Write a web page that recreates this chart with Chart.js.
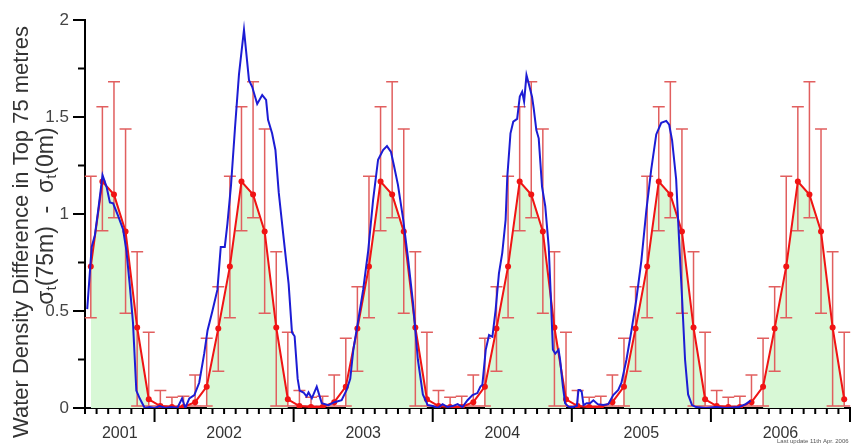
<!DOCTYPE html>
<html>
<head>
<meta charset="utf-8">
<script src="https://cdn.jsdelivr.net/npm/chart.js@4.4.0/dist/chart.umd.min.js"></script>
<style>
  html, body { margin: 0; padding: 0; background: #fff; }
  #wrap { width: 854px; height: 445px; }
</style>
</head>
<body>
<div id="wrap"><canvas id="chart" width="854" height="445"></canvas></div>
<script>
// Monthly climatology, Jan..Dec (repeated for each year on the plot)
const climMean  = [0.01, 0.005, 0.005, 0.03, 0.11, 0.41, 0.73, 1.167, 1.10, 0.91, 0.415, 0.045];
const climUpper = [0.09, 0.055, 0.06, 0.17, 0.36, 0.625, 1.195, 1.553, 1.682, 1.438, 0.806, 0.39];
const climLower = [0.01, 0.01, 0.01, 0.01, 0.01, 0.19, 0.465, 0.914, 0.981, 0.488, 0.01, 0.01];
// months that get the green shading under the climatology
const shadedMonths = [false, false, false, false, true, true, true, true, true, true, true, true];

const years = [2001, 2002, 2003, 2004, 2005, 2006];
const startMonth = 6; // series begins July 2001

// Observed values (decimal year, density difference)
const obsTime = [
  2001.516, 2001.548, 2001.571, 2001.595, 2001.626, 2001.655, 2001.679, 2001.702, 2001.738, 2001.774,
  2001.798, 2001.821, 2001.845, 2001.869, 2001.893, 2001.929, 2001.964, 2002.000, 2002.036, 2002.079,
  2002.121, 2002.164, 2002.198, 2002.221, 2002.250, 2002.286, 2002.321, 2002.357, 2002.381, 2002.416,
  2002.452, 2002.476, 2002.505, 2002.524, 2002.550, 2002.579, 2002.607, 2002.643, 2002.679, 2002.702,
  2002.738, 2002.774, 2002.802, 2002.816, 2002.845, 2002.869, 2002.893, 2002.929, 2002.964, 2002.988,
  2003.007, 2003.029, 2003.043, 2003.071, 2003.093, 2003.107, 2003.131, 2003.166, 2003.202, 2003.250,
  2003.293, 2003.345, 2003.381, 2003.407, 2003.429, 2003.464, 2003.500, 2003.536, 2003.571, 2003.607,
  2003.643, 2003.671, 2003.700, 2003.721, 2003.750, 2003.786, 2003.821, 2003.857, 2003.893, 2003.929,
  2003.964, 2004.000, 2004.036, 2004.071, 2004.107, 2004.143, 2004.179, 2004.214, 2004.250, 2004.286,
  2004.321, 2004.343, 2004.357, 2004.381, 2004.405, 2004.429, 2004.452, 2004.476, 2004.500, 2004.524,
  2004.536, 2004.559, 2004.579, 2004.607, 2004.626, 2004.643, 2004.657, 2004.674, 2004.691, 2004.714,
  2004.726, 2004.745, 2004.762, 2004.786, 2004.809, 2004.834, 2004.850, 2004.864, 2004.881, 2004.905,
  2004.916, 2004.936, 2004.952, 2004.976, 2005.007, 2005.036, 2005.048, 2005.059, 2005.071, 2005.084,
  2005.107, 2005.131, 2005.155, 2005.186, 2005.226, 2005.262, 2005.298, 2005.334, 2005.357, 2005.393,
  2005.429, 2005.464, 2005.500, 2005.536, 2005.571, 2005.607, 2005.643, 2005.679, 2005.700, 2005.721,
  2005.750, 2005.771, 2005.793, 2005.814, 2005.836, 2005.864, 2005.893, 2005.964, 2006.036, 2006.107,
  2006.202, 2006.250, 2006.286
];
const obsValue = [
  0.51, 0.83, 0.89, 1.02, 1.20, 1.14, 1.06, 1.055, 0.99, 0.92,
  0.81, 0.64, 0.44, 0.09, 0.05, 0.0, 0.005, 0.0, 0.01, 0.0,
  0.005, 0.0, 0.05, 0.0, 0.05, 0.067, 0.13, 0.28, 0.40, 0.50,
  0.61, 0.83, 0.83, 0.95, 1.15, 1.45, 1.72, 1.95, 1.69, 1.656,
  1.567, 1.613, 1.588, 1.485, 1.416, 1.33, 1.11, 0.87, 0.64, 0.39,
  0.37, 0.15, 0.09, 0.08, 0.06, 0.08, 0.05, 0.11, 0.025, 0.015,
  0.03, 0.04, 0.093, 0.15, 0.30, 0.45, 0.61, 0.81, 1.07, 1.28,
  1.33, 1.35, 1.32, 1.25, 1.15, 0.98, 0.78, 0.55, 0.25, 0.07,
  0.015, 0.01, 0.0, 0.02, 0.005, 0.01, 0.02, 0.005, 0.04, 0.067,
  0.077, 0.11, 0.12, 0.30, 0.376, 0.367, 0.505, 0.694, 0.80, 0.97,
  1.19, 1.416, 1.476, 1.49, 1.605, 1.63, 1.58, 1.716, 1.67, 1.605,
  1.545, 1.433, 1.39, 1.14, 1.04, 0.83, 0.557, 0.30, 0.28, 0.30,
  0.247, 0.11, 0.024, 0.007, 0.005, 0.01, 0.093, 0.093, 0.084, 0.015,
  0.025, 0.025, 0.04, 0.02, 0.015, 0.02, 0.067, 0.093, 0.13, 0.25,
  0.40, 0.56, 0.76, 1.02, 1.23, 1.41, 1.47, 1.48, 1.46, 1.38,
  1.18, 0.87, 0.56, 0.25, 0.07, 0.015, 0.005, 0.0, 0.005, 0.0,
  0.005, 0.02, 0.038
];

const yTicks = [0, 0.5, 1, 1.5, 2];
const xMin = 2001.5, xMax = 2007;

const axisTitle = 'Water Density Difference in Top 75 metres';
const updateNote = 'Last update 11th Apr. 2006';

Chart.defaults.font.family = "'Liberation Sans', Arial, sans-serif";

// climatology points, one per month
const climPoints = [];
years.forEach(yr => {
  for (let m = 0; m < 12; m++) {
    if (yr === years[0] && m < startMonth) continue;
    climPoints.push({ x: yr + (m + 0.5) / 12, y: climMean[m], hi: climUpper[m], lo: climLower[m], m: m });
  }
});

// year labels sit in the middle of the visible part of each year
const yearLabelPos = years.map(yr => (Math.max(yr, xMin) + Math.min(yr + 1, xMax)) / 2);

const errorBars = {
  id: 'errorBars',
  beforeDatasetDraw(chart, args) {
    if (args.index !== 1) return;
    const ctx = chart.ctx, xs = chart.scales.x, ys = chart.scales.y;
    ctx.save();
    ctx.strokeStyle = 'rgb(225,95,95)';
    ctx.lineWidth = 1.5;
    climPoints.forEach(p => {
      const px = xs.getPixelForValue(p.x);
      const top = ys.getPixelForValue(p.hi), bot = ys.getPixelForValue(p.lo);
      ctx.beginPath();
      ctx.moveTo(px, top); ctx.lineTo(px, bot);
      ctx.moveTo(px - 6, top); ctx.lineTo(px + 6, top);
      ctx.moveTo(px - 6, bot); ctx.lineTo(px + 6, bot);
      ctx.stroke();
    });
    ctx.restore();
  }
};

const axisDecor = {
  id: 'axisDecor',
  afterDraw(chart) {
    const ctx = chart.ctx, xs = chart.scales.x, ys = chart.scales.y, area = chart.chartArea;
    ctx.save();
    ctx.strokeStyle = '#000';
    ctx.lineWidth = 2;
    // month ticks, longer at year boundaries
    years.concat([2007]).forEach(yr => {
      for (let m = 0; m < 12; m++) {
        const v = yr + m / 12;
        if (v < xMin - 1e-6 || v > xMax + 1e-6) continue;
        const px = xs.getPixelForValue(v);
        const len = m === 0 ? 14 : 6;
        ctx.beginPath(); ctx.moveTo(px, area.bottom); ctx.lineTo(px, area.bottom + len); ctx.stroke();
      }
    });
    // y ticks, minor every 0.25
    for (let v = 0; v <= 2.0001; v += 0.25) {
      const py = ys.getPixelForValue(v);
      const len = Math.abs(v * 2 - Math.round(v * 2)) < 1e-6 ? 12 : 7;
      ctx.beginPath(); ctx.moveTo(area.left, py); ctx.lineTo(area.left - len, py); ctx.stroke();
    }
    // axis title, two rotated lines
    ctx.fillStyle = '#333';
    ctx.textAlign = 'center';
    ctx.textBaseline = 'middle';
    ctx.save();
    ctx.translate(22, 232);
    ctx.rotate(-Math.PI / 2);
    ctx.font = "22px 'Liberation Sans', Arial, sans-serif";
    ctx.fillText(axisTitle, 0, 0);
    ctx.restore();

    // sigma_t(75m) - sigma_t(0m) with subscripts
    const parts = [['σ', 23, 0], ['t', 15, 5], ['(75m)', 23, 0], ['  -  ', 23, 0], ['σ', 23, 0], ['t', 15, 5], ['(0m)', 23, 0]];
    ctx.save();
    ctx.translate(47, 216);
    ctx.rotate(-Math.PI / 2);
    ctx.textAlign = 'left';
    let total = 0;
    parts.forEach(p => { ctx.font = p[1] + "px 'Liberation Sans', Arial, sans-serif"; total += ctx.measureText(p[0]).width; });
    let cx = -total / 2;
    parts.forEach(p => {
      ctx.font = p[1] + "px 'Liberation Sans', Arial, sans-serif";
      ctx.fillText(p[0], cx, p[2]);
      cx += ctx.measureText(p[0]).width;
    });
    ctx.restore();

    // small note at the bottom right
    ctx.font = "6px 'Liberation Sans', Arial, sans-serif";
    ctx.textAlign = 'left';
    ctx.fillStyle = '#555';
    ctx.fillText(updateNote, 777, 441);
    ctx.restore();
  }
};

new Chart(document.getElementById('chart'), {
  type: 'line',
  data: {
    datasets: [
      {
        label: 'Observed',
        data: obsTime.map((t, i) => ({ x: t, y: obsValue[i] })),
        borderColor: '#1c1cd4',
        borderWidth: 2,
        pointRadius: 0,
        fill: false,
        order: 0
      },
      {
        label: 'Climatology',
        data: climPoints.map(p => ({ x: p.x, y: p.y })),
        borderColor: '#f01414',
        backgroundColor: '#f01414',
        borderWidth: 2,
        pointRadius: 3,
        pointBackgroundColor: '#f01414',
        pointBorderWidth: 0,
        fill: false,
        order: 1
      },
      {
        label: 'Shading',
        data: climPoints.map(p => ({ x: p.x, y: shadedMonths[p.m] ? p.y : null })),
        borderWidth: 0,
        borderColor: 'rgba(0,0,0,0)',
        backgroundColor: 'rgb(216,248,214)',
        pointRadius: 0,
        fill: 'origin',
        spanGaps: false,
        order: 2
      }
    ]
  },
  options: {
    responsive: false,
    animation: false,
    layout: { padding: { top: 20, right: 0, left: 0, bottom: 0 } },
    plugins: { legend: { display: false }, tooltip: { enabled: false } },
    scales: {
      x: {
        type: 'linear',
        min: xMin,
        max: xMax,
        afterBuildTicks: axis => { axis.ticks = yearLabelPos.map(v => ({ value: v })); },
        ticks: {
          callback: v => String(Math.floor(v)),
          font: { size: 16 },
          color: '#333',
          padding: 4,
          maxRotation: 0,
          autoSkip: false
        },
        grid: { display: false, tickLength: 12 },
        border: { display: true, color: '#000', width: 2 },
        afterFit: s => { s.height = 37; }
      },
      y: {
        min: 0,
        max: 2,
        afterBuildTicks: axis => { axis.ticks = yTicks.map(v => ({ value: v })); },
        ticks: { callback: v => String(v), font: { size: 17 }, color: '#444', padding: 4 },
        grid: { display: false, tickLength: 12 },
        border: { display: true, color: '#000', width: 2 },
        afterFit: s => { s.width = 85; }
      }
    }
  },
  plugins: [errorBars, axisDecor]
});
</script>
</body>
</html>
